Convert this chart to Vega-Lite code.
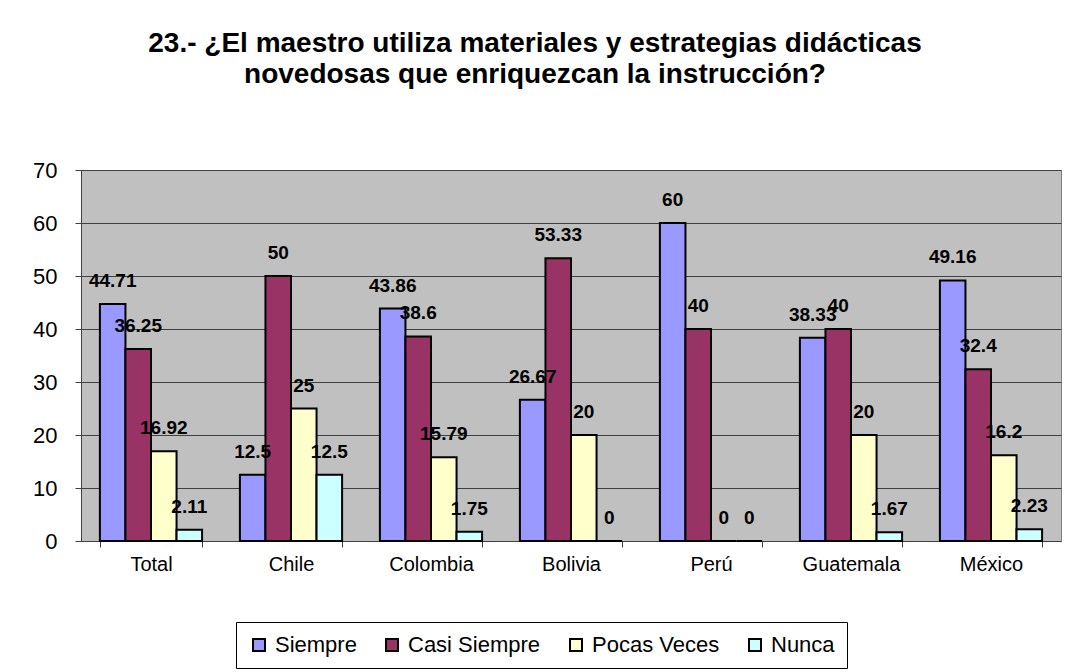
{
  "$schema": "https://vega.github.io/schema/vega-lite/v6.json",
  "width": 980,
  "height": 371,
  "autosize": {"type": "none"},
  "padding": {"left": 81, "top": 170, "right": 30, "bottom": 131},
  "background": "white",
  "title": {
    "text": ["23.- ¿El maestro utiliza materiales y estrategias didácticas", "novedosas que enriquezcan la instrucción?"],
    "font": "Liberation Sans",
    "fontSize": 28,
    "fontWeight": "bold",
    "color": "black",
    "anchor": "middle",
    "frame": "group",
    "offset": 70,
    "dx": -36,
    "lineHeight": 31
  },
  "data": {
    "values": [
      {"Country": "Total", "Series": "Siempre", "value": 44.71},
      {"Country": "Total", "Series": "Casi Siempre", "value": 36.25},
      {"Country": "Total", "Series": "Pocas Veces", "value": 16.92},
      {"Country": "Total", "Series": "Nunca", "value": 2.11},
      {"Country": "Chile", "Series": "Siempre", "value": 12.5},
      {"Country": "Chile", "Series": "Casi Siempre", "value": 50},
      {"Country": "Chile", "Series": "Pocas Veces", "value": 25},
      {"Country": "Chile", "Series": "Nunca", "value": 12.5},
      {"Country": "Colombia", "Series": "Siempre", "value": 43.86},
      {"Country": "Colombia", "Series": "Casi Siempre", "value": 38.6},
      {"Country": "Colombia", "Series": "Pocas Veces", "value": 15.79},
      {"Country": "Colombia", "Series": "Nunca", "value": 1.75},
      {"Country": "Bolivia", "Series": "Siempre", "value": 26.67},
      {"Country": "Bolivia", "Series": "Casi Siempre", "value": 53.33},
      {"Country": "Bolivia", "Series": "Pocas Veces", "value": 20},
      {"Country": "Bolivia", "Series": "Nunca", "value": 0},
      {"Country": "Perú", "Series": "Siempre", "value": 60},
      {"Country": "Perú", "Series": "Casi Siempre", "value": 40},
      {"Country": "Perú", "Series": "Pocas Veces", "value": 0},
      {"Country": "Perú", "Series": "Nunca", "value": 0},
      {"Country": "Guatemala", "Series": "Siempre", "value": 38.33},
      {"Country": "Guatemala", "Series": "Casi Siempre", "value": 40},
      {"Country": "Guatemala", "Series": "Pocas Veces", "value": 20},
      {"Country": "Guatemala", "Series": "Nunca", "value": 1.67},
      {"Country": "México", "Series": "Siempre", "value": 49.16},
      {"Country": "México", "Series": "Casi Siempre", "value": 32.4},
      {"Country": "México", "Series": "Pocas Veces", "value": 16.2},
      {"Country": "México", "Series": "Nunca", "value": 2.23}
    ]
  },
  "encoding": {
    "x": {
      "field": "Country",
      "type": "nominal",
      "sort": ["Total", "Chile", "Colombia", "Bolivia", "Perú", "Guatemala", "México"],
      "scale": {"paddingInner": 0.27, "paddingOuter": 0.135},
      "axis": {
        "title": null,
        "labelAngle": 0,
        "labelFont": "Liberation Sans",
        "labelFontSize": 20,
        "labelColor": "black",
        "labelPadding": 7,
        "tickBand": "extent",
        "tickSize": 6,
        "tickColor": "#404040",
        "domainColor": "#404040",
        "grid": false
      }
    },
    "xOffset": {
      "field": "Series",
      "type": "nominal",
      "sort": ["Siempre", "Casi Siempre", "Pocas Veces", "Nunca"],
      "scale": {"paddingInner": 0, "paddingOuter": 0}
    },
    "y": {
      "field": "value",
      "type": "quantitative",
      "scale": {"domain": [0, 70]},
      "axis": {
        "title": null,
        "values": [0, 10, 20, 30, 40, 50, 60, 70],
        "labelFont": "Liberation Sans",
        "labelFontSize": 22,
        "labelColor": "black",
        "labelPadding": 18,
        "tickSize": 6,
        "tickColor": "#404040",
        "domainColor": "#404040",
        "grid": true,
        "gridColor": "#404040",
        "gridWidth": 1,
        "gridOpacity": 1
      }
    }
  },
  "layer": [
    {
      "mark": {"type": "bar", "stroke": "black", "strokeWidth": 2},
      "encoding": {
        "color": {
          "field": "Series",
          "type": "nominal",
          "sort": ["Siempre", "Casi Siempre", "Pocas Veces", "Nunca"],
          "scale": {
            "domain": ["Siempre", "Casi Siempre", "Pocas Veces", "Nunca"],
            "range": ["#9999FF", "#993366", "#FFFFCC", "#CCFFFF"]
          },
          "legend": {
            "title": null,
            "orient": "none",
            "direction": "horizontal",
            "legendX": 155,
            "legendY": 452,
            "symbolType": "square",
            "symbolSize": 144,
            "symbolStrokeColor": "black",
            "symbolStrokeWidth": 2,
            "symbolOpacity": 1,
            "labelFont": "Liberation Sans",
            "labelFontSize": 22,
            "labelColor": "black",
            "labelOffset": 5,
            "columnPadding": 24,
            "strokeColor": "black",
            "fillColor": "white",
            "padding": 12
          }
        }
      }
    },
    {
      "mark": {
        "type": "text",
        "baseline": "middle",
        "dy": -23,
        "font": "Liberation Sans",
        "fontSize": 19,
        "fontWeight": "bold",
        "color": "black"
      },
      "encoding": {
        "text": {"field": "value", "type": "quantitative", "format": ".4~r"}
      }
    }
  ],
  "config": {
    "view": {"fill": "#C0C0C0", "stroke": "#808080", "strokeWidth": 1}
  }
}
